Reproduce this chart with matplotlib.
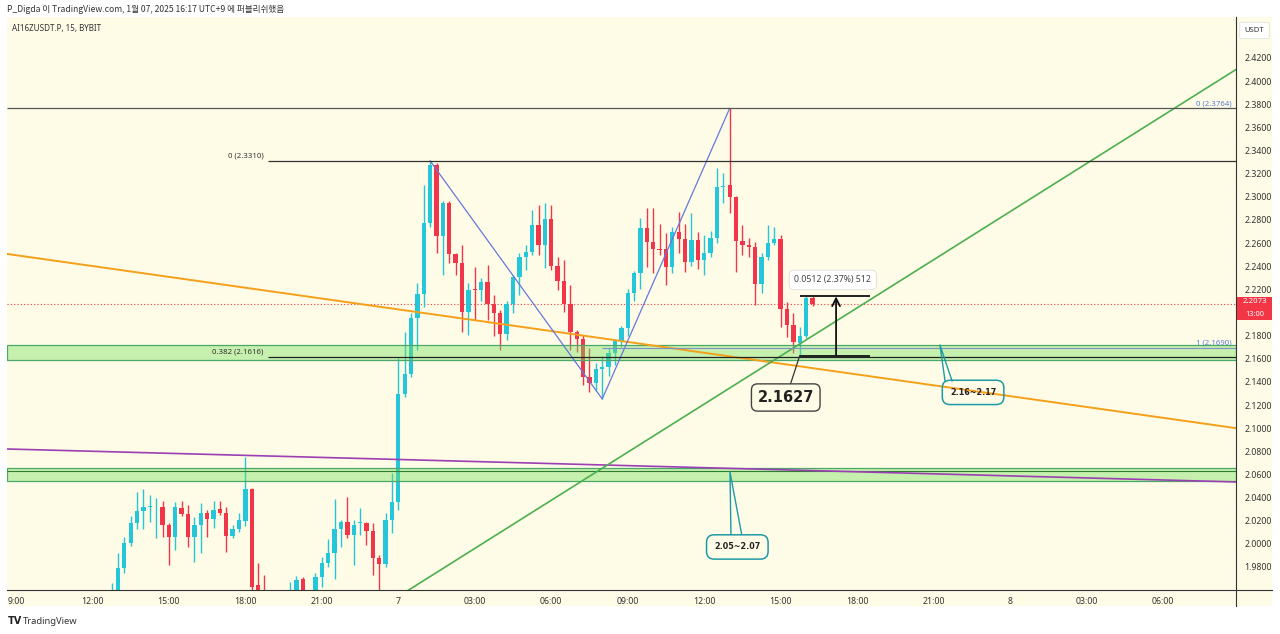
import numpy as np
import matplotlib.pyplot as plt
from matplotlib.patches import Rectangle, FancyBboxPatch
from matplotlib.lines import Line2D
from matplotlib.ticker import FormatStrFormatter

plt.rcParams['font.family'] = ['Noto Sans', 'DejaVu Sans']

# 15 minute bars, bar 0 = 01-06 09:00 (UTC+9)
bar_idx = np.arange(15, 126)

opens = [
    1.9500, 1.9580, 1.9790, 2.0010, 2.0180, 2.0280, 2.0320, 2.0323, 2.0320, 2.0160,
    2.0060, 2.0310, 2.0260, 2.0060, 2.0160, 2.0270, 2.0215, 2.0300, 2.0270, 2.0070,
    2.0130, 2.0200, 2.0470, 1.9645, 1.9520, 1.9450, 1.9400, 1.9480, 1.9450, 1.9520,
    1.9697, 1.9550, 1.9520, 1.9714, 1.9835, 1.9921, 2.0129, 2.0189, 2.0077, 2.0181,
    2.0181, 2.0112, 1.9878, 1.9826, 2.0206, 2.0362, 2.1296, 2.1468, 2.1953, 2.2160,
    2.2774, 2.3275, 2.2661, 2.2947, 2.2506, 2.2428, 2.2004, 2.2200, 2.2195, 2.2264,
    2.2074, 2.1996, 2.1814, 2.2074, 2.2307, 2.2480, 2.2523, 2.2756, 2.2584, 2.2808,
    2.2402, 2.2272, 2.2074, 2.1832, 2.1771, 2.1443, 2.1391, 2.1512, 2.1529, 2.1650,
    2.1754, 2.1866, 2.2169, 2.2342, 2.2731, 2.2610, 2.2549, 2.2549, 2.2393, 2.2696,
    2.2635, 2.2437, 2.2627, 2.2454, 2.2514, 2.2644, 2.3085, 2.3102, 2.2998, 2.2618,
    2.2584, 2.2566, 2.2246, 2.2480, 2.2601, 2.2635, 2.2030, 2.1892, 2.1740, 2.1797, 2.2125,
]
highs = [
    1.9660, 1.9920, 2.0060, 2.0240, 2.0450, 2.0470, 2.0420, 2.0400, 2.0370, 2.0180,
    2.0360, 2.0370, 2.0340, 2.0230, 2.0350, 2.0290, 2.0370, 2.0370, 2.0320, 2.0160,
    2.0270, 2.0750, 2.0480, 1.9835, 1.9730, 1.9550, 1.9520, 1.9560, 1.9670, 1.9720,
    1.9710, 1.9580, 1.9750, 1.9887, 2.0042, 2.0388, 2.0206, 2.0405, 2.0206, 2.0310,
    2.0190, 2.0181, 1.9900, 2.0267, 2.0613, 2.1607, 2.1832, 2.1996, 2.2255, 2.3102,
    2.3310, 2.3290, 2.2960, 2.2960, 2.2515, 2.2584, 2.2255, 2.2393, 2.2298, 2.2411,
    2.2150, 2.2020, 2.2100, 2.2324, 2.2514, 2.2584, 2.2886, 2.2929, 2.2947, 2.2929,
    2.2480, 2.2454, 2.2238, 2.1850, 2.1806, 2.1693, 2.1560, 2.1620, 2.1693, 2.1770,
    2.1880, 2.2200, 2.2360, 2.2817, 2.2903, 2.2903, 2.2765, 2.2687, 2.2739, 2.2869,
    2.2765, 2.2860, 2.2696, 2.2670, 2.2700, 2.3249, 2.3206, 2.3764, 2.3010, 2.2756,
    2.2640, 2.2610, 2.2510, 2.2756, 2.2740, 2.2670, 2.2090, 2.1996, 2.1875, 2.2139, 2.2139,
]
lows = [
    1.9450, 1.9550, 1.9750, 1.9980, 2.0130, 2.0130, 2.0190, 2.0050, 2.0060, 1.9820,
    1.9950, 2.0240, 1.9970, 1.9840, 1.9920, 2.0060, 2.0140, 2.0250, 1.9930, 2.0050,
    2.0100, 2.0150, 1.9550, 1.9450, 1.9400, 1.9350, 1.9320, 1.9400, 1.9400, 1.9480,
    1.9500, 1.9450, 1.9500, 1.9627, 1.9800, 1.9697, 1.9973, 2.0050, 1.9818, 2.0077,
    1.9990, 1.9731, 1.9500, 1.9800, 2.0094, 2.0293, 2.1270, 2.1443, 2.1676, 2.2048,
    2.2740, 2.2514, 2.2324, 2.2428, 2.2324, 2.1832, 2.1806, 2.1936, 2.2100, 2.1936,
    2.1800, 2.1676, 2.1762, 2.1996, 2.2150, 2.2367, 2.2500, 2.2497, 2.2385, 2.2367,
    2.2195, 2.2004, 2.1676, 2.1659, 2.1373, 2.1313, 2.1320, 2.1252, 2.1450, 2.1550,
    2.1700, 2.1800, 2.2100, 2.2200, 2.2393, 2.2342, 2.2500, 2.2238, 2.2342, 2.2514,
    2.2350, 2.2400, 2.2380, 2.2324, 2.2480, 2.2600, 2.2950, 2.2860, 2.2350, 2.2500,
    2.2480, 2.2065, 2.2170, 2.2450, 2.2580, 2.1875, 2.1790, 2.1650, 2.1627, 2.1780, 2.2060,
]
closes = [
    1.9580, 1.9790, 2.0010, 2.0180, 2.0280, 2.0320, 2.0323, 2.0326, 2.0160, 2.0060,
    2.0320, 2.0260, 2.0060, 2.0160, 2.0270, 2.0215, 2.0290, 2.0270, 2.0070, 2.0130,
    2.0210, 2.0470, 1.9630, 1.9500, 1.9450, 1.9400, 1.9480, 1.9450, 1.9520, 1.9688,
    1.9550, 1.9520, 1.9714, 1.9835, 1.9921, 2.0129, 2.0189, 2.0077, 2.0163, 2.0184,
    2.0112, 1.9878, 1.9826, 2.0206, 2.0362, 2.1296, 2.1468, 2.1953, 2.2160, 2.2774,
    2.3275, 2.2661, 2.2947, 2.2506, 2.2428, 2.2004, 2.2195, 2.2190, 2.2264, 2.2074,
    2.1996, 2.1814, 2.2074, 2.2307, 2.2480, 2.2523, 2.2756, 2.2584, 2.2808, 2.2402,
    2.2272, 2.2074, 2.1832, 2.1771, 2.1443, 2.1391, 2.1512, 2.1529, 2.1650, 2.1754,
    2.1866, 2.2169, 2.2342, 2.2731, 2.2610, 2.2549, 2.2540, 2.2393, 2.2696, 2.2635,
    2.2437, 2.2627, 2.2454, 2.2514, 2.2644, 2.3085, 2.3094, 2.2998, 2.2618, 2.2584,
    2.2566, 2.2246, 2.2480, 2.2601, 2.2635, 2.2030, 2.1892, 2.1745, 2.1797, 2.2125, 2.2073,
]

last_price = 2.2073
# drawings (bar index, price)
orange_line = ([-1.41, 191.46], [2.2506, 2.1000])
purple_line = ([-1.41, 191.46], [2.0820, 2.0535])
green_line = ([60.3, 191.46], [1.9555, 2.4100])
zigzag_t = [65, 92, 112]
zigzag_p = [2.3310, 2.1252, 2.3764]
zone_hi = (2.1588, 2.1719)
zone_lo = (2.0544, 2.0656)
fib_a = {'0 (2.3310)': 2.3310, '0.382 (2.1616)': 2.1616}
fib_b = {'0 (2.3764)': 2.3764, '1 (2.1690)': 2.1690}
measure_lo, measure_hi = 2.1627, 2.2139

# 2.2000 sits under the last-price label
price_ticks = [1.98, 2.00, 2.02, 2.04, 2.06, 2.08, 2.10, 2.12, 2.14, 2.16, 2.18,
               2.22, 2.24, 2.26, 2.28, 2.30, 2.32, 2.34, 2.36, 2.38, 2.40, 2.42]
time_ticks = [0, 12, 24, 36, 48, 60, 72, 84, 96, 108, 120, 132, 144, 156, 168, 180]
time_labels = ['9:00', '12:00', '15:00', '18:00', '21:00', '7', '03:00', '06:00',
               '09:00', '12:00', '15:00', '18:00', '21:00', '8', '03:00', '06:00']

BG = '#fefce6'
UP = '#26c6da'
DOWN = '#f0364a'
X0, X1 = -1.41, 191.46


def fx(p):
    return p / 1280


def fy(p):
    return 1 - p / 634


fig = plt.figure(figsize=(12.8, 6.34), dpi=100)
fig.patch.set_facecolor('white')
fig.patches.append(Rectangle((fx(7), fy(606)), fx(1272) - fx(7), fy(17) - fy(606),
                             transform=fig.transFigure, facecolor=BG,
                             edgecolor='none', zorder=-5))
ax = fig.add_axes([fx(7), fy(590), fx(1236) - fx(7), fy(17) - fy(590)])
ax.set_facecolor(BG)
ax.set_xlim(X0, X1)
ax.set_ylim(1.9601, 2.4554)

o = np.array(opens)
h = np.array(highs)
l = np.array(lows)
c = np.array(closes)
cols = np.where(c >= o, UP, DOWN)

ax.vlines(bar_idx, l, h, colors=cols, lw=1, zorder=2)
body = np.maximum(np.abs(c - o), 0.0008)
ax.bar(bar_idx, body, bottom=np.minimum(o, c), width=0.68, color=cols, lw=0, zorder=2)

# zones (drawn over candles)
for lo, hi in (zone_hi, zone_lo):
    ax.axhspan(lo, hi, facecolor=(0.45, 0.88, 0.35, 0.4), edgecolor='#4aa86a',
               lw=0.9, zorder=3)
ax.hlines(2.0630, X0, X1, color='#2e7d32', lw=0.8, zorder=3)

# trend lines
ax.plot(*orange_line, color='#f5a01a', lw=1.4, zorder=4)
ax.plot(*purple_line, color='#9c3fb5', lw=1.2, zorder=4)
ax.plot(*green_line, color='#4caf50', lw=1.2, zorder=4)
ax.plot(zigzag_t, zigzag_p, color='#6677dd', lw=0.9, zorder=4)

# fib levels
ax.hlines(fib_a['0 (2.3310)'], 39.55, X1, color='#333333', lw=0.9, zorder=4)
ax.hlines(fib_a['0.382 (2.1616)'], 39.55, X1, color='#222222', lw=0.9, zorder=4)
ax.hlines(fib_b['0 (2.3764)'], X0, X1, color='#555555', lw=0.9, zorder=4)
ax.hlines(fib_b['1 (2.1690)'], 92, X1, color='#8090c8', lw=0.8, zorder=4)
for txt, val in fib_a.items():
    ax.text(38.9, val + 0.0012, txt, ha='right', va='bottom', fontsize=5.6,
            color='#333333', zorder=5)
for txt, val in fib_b.items():
    ax.text(190.8, val + 0.0012, txt, ha='right', va='bottom', fontsize=5.6,
            color='#5b7bd5', zorder=5)

# last price line
ax.axhline(last_price, color='#f23645', lw=0.8, ls=(0, (1, 2)), zorder=1)

# price range measure
ax.hlines([measure_lo, measure_hi], 123, 134, color='#111111', lw=1.3, zorder=6)
ax.annotate('', xy=(128.7, measure_hi), xytext=(128.7, measure_lo),
            arrowprops=dict(arrowstyle='->', lw=1.3, color='#111111',
                            mutation_scale=14, shrinkA=0, shrinkB=0), zorder=6)
ax.text(128.2, 2.2281, '0.0512 (2.37%) 512', ha='center', va='center', fontsize=6.3,
        color='#444444', zorder=7,
        bbox=dict(boxstyle='round,pad=0.6', facecolor='white', edgecolor='#dddddd', lw=0.6))

# callouts
bold_font = ['DejaVu Sans']
ax.plot([123, 121.5], [measure_lo, 2.1374], color='#333333', lw=0.9, zorder=6)
ax.text(120.8, 2.1265, '2.1627', ha='center', va='center', fontsize=10.5,
        fontweight='bold', color='#222222', zorder=7, family=bold_font,
        bbox=dict(boxstyle='round,pad=0.42', facecolor=BG, edgecolor='#444444', lw=1))

teal = '#1e9aa6'
ax.plot([145.8, 145.0, 146.9], [2.1408, 2.1719, 2.1408], color=teal, lw=1, zorder=6)
ax.text(150.2, 2.1309, '2.16~2.17', ha='center', va='center', fontsize=5.8,
        fontweight='bold', color='#222222', zorder=7, family=bold_font,
        bbox=dict(boxstyle='round,pad=0.95', facecolor='none', edgecolor=teal, lw=1.1))
ax.plot([112.2, 112.05, 113.9], [2.0077, 2.0621, 2.0077], color=teal, lw=1, zorder=6)
ax.text(113.2, 1.9973, '2.05~2.07', ha='center', va='center', fontsize=5.8,
        fontweight='bold', color='#222222', zorder=7, family=bold_font,
        bbox=dict(boxstyle='round,pad=0.95', facecolor=BG, edgecolor=teal, lw=1.1))

# axes
ax.yaxis.tick_right()
ax.set_yticks(price_ticks)
ax.yaxis.set_major_formatter(FormatStrFormatter('%.4f'))
ax.tick_params(axis='y', length=0, pad=6, labelsize=6.3, labelcolor='#333333')
ax.set_xticks(time_ticks)
ax.set_xticklabels(time_labels)
ax.tick_params(axis='x', length=0, pad=5, labelsize=6.3, labelcolor='#333333')
for lab in ax.get_xticklabels():
    if lab.get_text() in ('7', '8'):
        lab.set_fontweight('bold')
for s in ax.spines.values():
    s.set_visible(False)

fig.lines.append(Line2D([fx(1236), fx(1236)], [fy(17), fy(606)], transform=fig.transFigure,
                        color='#333333', lw=0.8))
fig.lines.append(Line2D([fx(7), fx(1272)], [fy(590), fy(590)], transform=fig.transFigure,
                        color='#333333', lw=0.8))

# price label on the axis
fig.patches.append(Rectangle((fx(1237), fy(320)), fx(35), fy(0) - fy(23),
                             transform=fig.transFigure, facecolor='#f23645',
                             edgecolor='none', zorder=5))
fig.text(fx(1254.5), fy(302), '2.2073', ha='center', va='center', fontsize=5.6,
         color='white', fontweight='bold', zorder=6)
fig.text(fx(1254.5), fy(315), '13:00', ha='center', va='center', fontsize=5.3,
         color='white', zorder=6)

fig.patches.append(FancyBboxPatch((fx(1241), fy(38)), fx(27), fy(0) - fy(15),
                                  boxstyle='round,pad=0.001', transform=fig.transFigure,
                                  facecolor='white', edgecolor='#e0e0e0', lw=0.6, zorder=5))
fig.text(fx(1254.5), fy(30.5), 'USDT', ha='center', va='center', fontsize=5.5,
         color='#333333', zorder=6)

fig.text(fx(7), fy(9), 'P_Digda 이 TradingView.com, 1월 07, 2025 16:17 UTC+9 에 퍼블리쉬했음',
         ha='left', va='center', fontsize=6.2, color='#333333',
         family=['Noto Sans CJK KR', 'DejaVu Sans'])
fig.text(fx(12), fy(29), 'AI16ZUSDT.P, 15, BYBIT', ha='left', va='center', fontsize=5.8,
         color='#333333')
fig.text(fx(8), fy(621), 'TV', ha='left', va='center', fontsize=7, fontweight='heavy',
         color='#222222', family=bold_font)
fig.text(fx(23), fy(621), 'TradingView', ha='left', va='center', fontsize=6.8,
         color='#333333')

fig.savefig('out.png', dpi=100, facecolor='white')
